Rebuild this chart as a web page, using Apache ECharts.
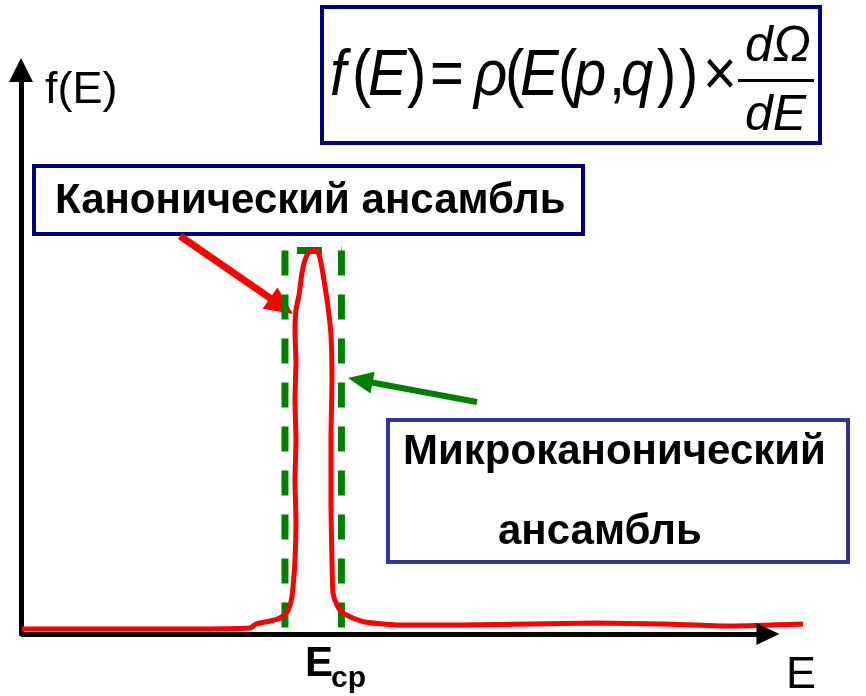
<!DOCTYPE html>
<html><head><meta charset="utf-8">
<script src="https://cdn.jsdelivr.net/npm/echarts@6/dist/echarts.min.js"></script>
<style>html,body{margin:0;padding:0;background:#fff}#c{width:866px;height:696px}</style>
</head><body><div id="c"></div>
<script>
// Energy (x) and distribution f(E) (y), arbitrary units
const energy  = [0.13, 10.58, 21.29, 30.66, 31.46, 33.33, 34.67, 35.61, 36.14, 36.41, 36.68, 36.81, 36.68, 36.81, 36.68, 36.81, 36.68, 36.81, 37.22, 37.62, 38.02, 38.55, 39.09, 39.63, 40.03, 40.56, 41.10, 41.50, 41.63, 41.50, 41.50, 41.63, 41.77, 42.30, 43.11, 44.44, 46.05, 50.33, 59.17, 68.14, 77.11, 85.94, 94.91, 104.69];
const density = [0.89, 0.89, 0.89, 1.06, 1.77, 2.30, 2.84, 3.90, 5.67, 8.16, 13.12, 20.21, 27.30, 34.40, 41.49, 48.05, 53.90, 57.45, 60.11, 64.01, 66.31, 67.73, 68.09, 67.91, 66.67, 62.77, 57.98, 53.01, 45.04, 34.40, 23.76, 13.12, 7.27, 5.14, 3.72, 2.84, 2.13, 1.60, 1.60, 1.77, 1.95, 1.77, 1.42, 1.77];
// Microcanonical window [E1, E2] and its height
const windowE = [35.34, 42.90];
const windowTop = 68.0;
// Energy axis drawn range (arrow) and plotted range
const axisEnd = 100;
const plotMax = 105.1;
// Texts
const yAxisName = 'f(E)';
const xAxisName = 'E';
const meanLabel = 'E';
const meanSub = 'cp';
const canonicalText = 'Канонический ансамбль';
const microText1 = 'Микроканонический';
const microText2 = 'ансамбль';

const chart = echarts.init(document.getElementById('c'), null, {renderer: 'canvas'});
const FONT = '"Liberation Sans", Arial, sans-serif';

function arrow(tail, tip, color, w, headLen, headW) {
  const dx = tip[0] - tail[0], dy = tip[1] - tail[1];
  const L = Math.sqrt(dx * dx + dy * dy);
  const ux = dx / L, uy = dy / L;
  const bx = tip[0] - ux * headLen, by = tip[1] - uy * headLen;
  const px = -uy, py = ux;
  return [
    {type: 'line', shape: {x1: tail[0], y1: tail[1], x2: bx + ux * 2, y2: by + uy * 2},
     style: {stroke: color, lineWidth: w}},
    {type: 'polygon', shape: {points: [[tip[0], tip[1]], [bx + px * headW / 2, by + py * headW / 2], [bx - px * headW / 2, by - py * headW / 2]]},
     style: {fill: color}}
  ];
}

function txt(s, x, y, size, weight, style, extra) {
  return Object.assign({type: 'text', x: x, y: y,
    style: {text: s, fill: '#000', font: (style || 'normal') + ' ' + (weight || 'normal') + ' ' + size + 'px ' + FONT,
            verticalAlign: 'middle', align: 'left'}}, extra || {});
}

// formula layout pieces [text, left x, italic]
const formulaPieces = [['f', 330, true], ['(', 352, false], ['E', 368, true], [')', 407, false], ['=', 430, false],
  ['ρ', 474, true], ['(', 505, false], ['E', 520, true], ['(', 558, false], ['p', 574, true], [',', 609, false],
  ['q', 621, true], [')', 657, false], [')', 679, false], ['×', 703, false]];
const FS = 58, baseMain = 100, SY = 1.12;
const formulaEls = formulaPieces.map(p => txt(p[0], p[1], baseMain - 0.36 * FS * SY, FS, 'normal', p[2] ? 'italic' : 'normal', {scaleY: SY}));

const green = '#008000';
const dashLine = {color: green, width: 7, type: [25, 19]};

chart.setOption({
  animation: false,
  grid: {left: 21, right: 60, top: 70, bottom: 62, containLabel: false},
  xAxis: {type: 'value', min: 0, max: plotMax,
    axisLine: {show: false}, axisTick: {show: false}, axisLabel: {show: false}, splitLine: {show: false}},
  yAxis: {type: 'value', min: 0, max: 100,
    axisLine: {show: true, symbol: ['none', 'triangle'], symbolSize: [24, 24], lineStyle: {color: '#000', width: 5}},
    axisTick: {show: false}, axisLabel: {show: false}, splitLine: {show: false}},
  series: [
    {type: 'line', silent: true, symbol: 'none', data: [[windowE[0], windowTop], [windowE[0], 0]], lineStyle: dashLine, z: 2,
     markLine: {silent: true, symbol: ['none', 'triangle'], symbolSize: [22, 23], label: {show: false},
       lineStyle: {color: '#000', width: 5, type: 'solid'},
       data: [[{coord: [0, 0]}, {coord: [axisEnd, 0]}]]}},
    {type: 'line', silent: true, symbol: 'none', data: [[windowE[1], windowTop], [windowE[1], 0]], lineStyle: dashLine, z: 2},
    {type: 'line', silent: true, symbol: 'none', data: [[windowE[0], windowTop], [windowE[1], windowTop]],
     lineStyle: Object.assign({}, dashLine, {dashOffset: 32}), z: 2},
    {type: 'line', silent: true, symbol: 'none', smooth: 0.2,
     data: energy.map((e, i) => [e, density[i]]), lineStyle: {color: '#ff0000', width: 5}, z: 3}
  ],
  graphic: [].concat(
    [{type: 'rect', shape: {x: 322, y: 7, width: 498, height: 136}, style: {fill: 'none', stroke: '#000080', lineWidth: 4}}],
    formulaEls,
    [txt('dΩ', 745, 65 - 0.36 * 50, 50, 'normal', 'italic'),
     {type: 'rect', shape: {x: 738, y: 79, width: 76, height: 3}, style: {fill: '#000'}},
     txt('dE', 745, 134 - 0.36 * 50, 50, 'normal', 'italic'),
     txt(yAxisName, 45, 107 - 0.36 * 45, 45),
     txt(xAxisName, 786, 692 - 0.36 * 45, 45),
     txt(meanLabel, 305, 680 - 0.36 * 42, 42, 'bold'),
     txt(meanSub, 331, 690 - 0.36 * 30, 30, 'bold'),
     {type: 'rect', shape: {x: 34, y: 166, width: 549, height: 68}, style: {fill: '#fff', stroke: '#000080', lineWidth: 4}},
     txt(canonicalText, 55, 217 - 0.36 * 42, 42, 'bold'),
     {type: 'rect', shape: {x: 388, y: 420, width: 460, height: 142}, style: {fill: '#fff', stroke: '#333399', lineWidth: 4}},
     txt(microText1, 403, 468 - 0.36 * 42, 42, 'bold'),
     txt(microText2, 498, 548 - 0.36 * 42, 42, 'bold')],
    arrow([180, 236], [293, 314], '#ff0000', 7, 28, 26),
    arrow([477, 402], [348, 378], green, 6, 25, 22)
  )
});
</script></body></html>
